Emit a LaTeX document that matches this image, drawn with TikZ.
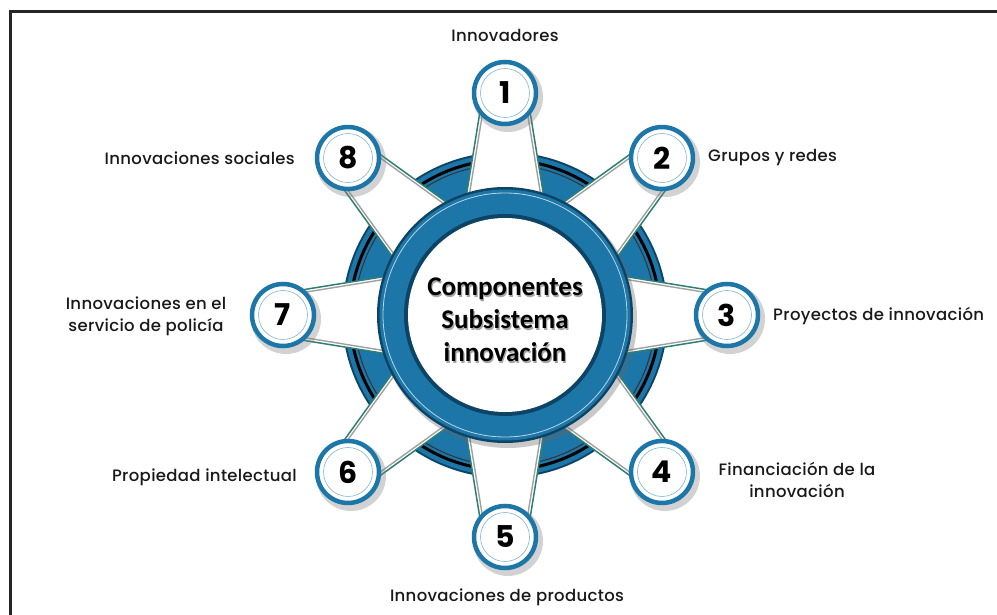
\documentclass[tikz,border=0pt]{standalone}
\usepackage{fontspec}
\setmainfont{Poppins}
\newfontfamily\lblfont{Poppins Medium}[LetterSpace=2]
\newfontfamily\centerfont{Carlito}
\usetikzlibrary{calc}
\definecolor{mblue}{HTML}{1C76A8}
\definecolor{dblue}{HTML}{0D4466}
\definecolor{spoketeal}{HTML}{2E7F74}
\definecolor{spokegray}{HTML}{A0A0A0}
\tikzset{
  numcircle/.style={circle, minimum size=62, inner sep=0, draw=mblue, line width=4.5, fill=white, font=\bfseries\fontsize{30}{30}\selectfont},
  lbl/.style={font=\lblfont\fontsize{16.5}{22}\selectfont, text=black!90, align=center, inner sep=0},
}
\begin{document}
\begin{tikzpicture}[x=1pt,y=-1pt]
\useasboundingbox (0,0) rectangle (997,615);
\fill[white] (0,0) rectangle (997,615);
\draw[line width=3, black!85] (10,640) -- (10,12) -- (1010,12);
\coordinate (c) at (505,315);
% big disk
\fill[dblue] (c) circle (163);
\fill[mblue] (c) circle (161);
\draw[black, line width=3] (c) circle (155);
\draw[black!80, line width=1] (c) circle (150.5);
% spokes
\foreach \k in {0,...,7}{
  \pgfmathsetmacro{\a}{-90+45*\k}
  \coordinate (s\k a) at ($(c)+(\a:222)+(\a+90:22)$);
  \coordinate (s\k b) at ($(c)+(\a:222)+(\a-90:22)$);
  \coordinate (s\k c) at ($(c)+(\a-90:58)$);
  \coordinate (s\k d) at ($(c)+(\a+90:58)$);
  \fill[white] (s\k a) -- (s\k b) -- (s\k c) -- (s\k d) -- cycle;
  \draw[spoketeal, line width=1.5] (s\k d) -- (s\k a);
  \draw[spoketeal, line width=1.5] (s\k c) -- (s\k b);
  \draw[spokegray, line width=1.4] ($(s\k d)!2.8pt!90:(s\k a)$) -- ($(s\k a)!2.8pt!-90:(s\k d)$);
  \draw[spokegray, line width=1.4] ($(s\k c)!2.8pt!-90:(s\k b)$) -- ($(s\k b)!2.8pt!90:(s\k c)$);
}
% inner ring
\fill[black!60, opacity=0.35] ($(c)+(3,4)$) circle (129);
\fill[dblue] (c) circle (128);
\fill[mblue] (c) circle (125.5);
\draw[white!70!mblue, line width=0.8] (c) circle (122);
\fill[dblue] (c) circle (101);
\fill[white] (c) circle (97);
\node[font=\centerfont\bfseries\fontsize{27}{33}\selectfont, align=center, inner sep=0, text=black!35] at (506.2,321.4) {Componentes\\Subsistema\\innovación};
\node[font=\centerfont\bfseries\fontsize{27}{33}\selectfont, align=center, inner sep=0] (center) at (505,320) {Componentes\\Subsistema\\innovación};
% small circles
\foreach \k/\n in {0/1,1/2,2/3,3/4,4/5,5/6,6/7,7/8}{
  \pgfmathsetmacro{\a}{-90+45*\k}
  \fill[black!50, opacity=0.35] ($(c)+(\a:222)+(3,4)$) circle (35);
  \node[numcircle] (n\n) at ($(c)+(\a:222)$) {\n};
  \draw[mblue!55, line width=0.6] (n\n.center) circle (24.5);
}
% labels
\node[lbl] (l1) at (505,35) {Innovadores};
\node[lbl, anchor=west] (l2) at (708,158) {Grupos y redes};
\node[lbl, anchor=west] (l3) at (773,316) {Proyectos de innovación};
\node[lbl] (l4) at (797,480) {Financiación de la\\innovación};
\node[lbl] (l5) at (507,597) {Innovaciones de productos};
\node[lbl, anchor=east] (l6) at (297,477) {Propiedad intelectual};
\node[lbl] (l7) at (146,316) {Innovaciones en el\\servicio de policía};
\node[lbl, anchor=east] (l8) at (295,158) {Innovaciones sociales};
\end{tikzpicture}
\end{document}
